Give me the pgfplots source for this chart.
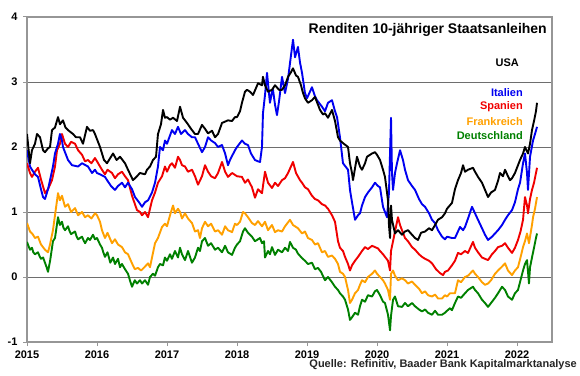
\documentclass[border=0pt]{standalone}
\usepackage{fontspec}
\setmainfont{Liberation Sans}
\usepackage{pgfplots}
\pgfplotsset{compat=1.18}
\definecolor{cblue}{RGB}{0,0,240}
\definecolor{cred}{RGB}{240,0,0}
\definecolor{corange}{RGB}{255,160,0}
\definecolor{cgreen}{RGB}{0,128,0}
\definecolor{cgrid}{RGB}{110,110,110}
\definecolor{cframe}{RGB}{150,150,150}
\begin{document}
\begin{tikzpicture}
\path[use as bounding box] (0,0) rectangle (580pt,375pt);
\begin{axis}[
  at={(27pt,33pt)}, anchor=south west,
  scale only axis, width=525pt, height=325pt,
  xmin=2015, xmax=2022.5, ymin=-1, ymax=4,
  xtick={2015,2016,2017,2018,2019,2020,2021,2022},
  ytick={-1,0,1,2,3,4},
  /pgf/number format/assume math mode=true,
  /pgf/number format/1000 sep={},
  ticklabel style={font=\bfseries\fontsize{11}{13}\selectfont},
  yticklabel style={xshift=-2pt},
  xticklabel style={yshift=-1pt},
  ymajorgrids, grid style={cgrid, line width=0.7pt},
  axis line style={cframe, line width=1.2pt},
  tick style={cframe, line width=1pt},
  tick align=outside, major tick length=4pt,
  xtick pos=bottom, ytick pos=left,
  every axis plot/.append style={line width=1.9pt, line join=round},
]
% Deutschland
\addplot[cgreen] table {
2015.000 0.54
2015.020 0.48
2015.043 0.42
2015.071 0.45
2015.090 0.38
2015.114 0.35
2015.157 0.38
2015.180 0.32
2015.200 0.28
2015.230 0.30
2015.257 0.22
2015.280 0.15
2015.300 0.08
2015.330 0.25
2015.371 0.55
2015.400 0.60
2015.420 0.75
2015.443 0.92
2015.470 0.80
2015.500 0.85
2015.520 0.76
2015.543 0.72
2015.586 0.78
2015.610 0.70
2015.630 0.66
2015.686 0.70
2015.710 0.62
2015.730 0.58
2015.786 0.62
2015.810 0.56
2015.830 0.52
2015.871 0.60
2015.900 0.57
2015.943 0.65
2015.971 0.58
2016.000 0.60
2016.043 0.50
2016.071 0.45
2016.090 0.38
2016.114 0.31
2016.150 0.38
2016.190 0.22
2016.229 0.30
2016.257 0.20
2016.300 0.28
2016.329 0.15
2016.357 0.20
2016.400 0.12
2016.443 0.05
2016.470 -0.05
2016.500 -0.15
2016.540 -0.05
2016.571 -0.10
2016.614 -0.05
2016.643 -0.10
2016.686 -0.05
2016.729 -0.12
2016.757 0.00
2016.800 0.05
2016.829 0.02
2016.871 0.15
2016.900 0.20
2016.943 0.18
2016.971 0.30
2017.000 0.25
2017.043 0.35
2017.071 0.28
2017.114 0.40
2017.157 0.30
2017.186 0.45
2017.214 0.35
2017.257 0.26
2017.300 0.40
2017.357 0.22
2017.400 0.30
2017.443 0.45
2017.471 0.40
2017.500 0.55
2017.543 0.60
2017.586 0.48
2017.630 0.52
2017.686 0.42
2017.729 0.45
2017.786 0.38
2017.830 0.48
2017.871 0.38
2017.929 0.34
2017.971 0.45
2018.000 0.50
2018.043 0.55
2018.086 0.70
2018.114 0.75
2018.157 0.68
2018.214 0.62
2018.257 0.55
2018.300 0.58
2018.329 0.60
2018.357 0.52
2018.386 0.55
2018.400 0.30
2018.443 0.40
2018.471 0.35
2018.500 0.46
2018.543 0.34
2018.586 0.42
2018.643 0.38
2018.686 0.45
2018.729 0.40
2018.757 0.54
2018.800 0.45
2018.843 0.42
2018.871 0.36
2018.929 0.29
2018.971 0.25
2019.014 0.20
2019.071 0.22
2019.114 0.12
2019.157 0.14
2019.200 0.08
2019.257 -0.05
2019.300 0.00
2019.357 -0.08
2019.400 -0.15
2019.443 -0.20
2019.471 -0.25
2019.514 -0.30
2019.543 -0.35
2019.586 -0.50
2019.614 -0.66
2019.643 -0.62
2019.686 -0.55
2019.729 -0.58
2019.757 -0.45
2019.786 -0.35
2019.829 -0.38
2019.871 -0.28
2019.929 -0.30
2019.971 -0.22
2020.000 -0.20
2020.043 -0.28
2020.086 -0.38
2020.114 -0.40
2020.157 -0.58
2020.186 -0.82
2020.200 -0.60
2020.229 -0.35
2020.257 -0.30
2020.300 -0.45
2020.357 -0.46
2020.400 -0.40
2020.443 -0.45
2020.500 -0.40
2020.543 -0.45
2020.600 -0.50
2020.643 -0.53
2020.686 -0.50
2020.729 -0.55
2020.786 -0.58
2020.829 -0.52
2020.871 -0.58
2020.929 -0.58
2020.971 -0.55
2021.000 -0.52
2021.043 -0.48
2021.071 -0.51
2021.114 -0.40
2021.157 -0.30
2021.200 -0.32
2021.257 -0.25
2021.300 -0.20
2021.371 -0.15
2021.400 -0.20
2021.443 -0.25
2021.500 -0.35
2021.543 -0.40
2021.586 -0.46
2021.629 -0.40
2021.686 -0.32
2021.729 -0.25
2021.786 -0.15
2021.829 -0.20
2021.871 -0.30
2021.929 -0.35
2021.971 -0.25
2022.014 -0.20
2022.050 -0.05
2022.086 0.10
2022.114 0.20
2022.143 0.26
2022.171 -0.10
2022.186 0.15
2022.214 0.30
2022.243 0.45
2022.271 0.60
2022.286 0.67
};
% Frankreich
\addplot[corange] table {
2015.000 0.83
2015.043 0.70
2015.080 0.66
2015.114 0.60
2015.157 0.62
2015.200 0.50
2015.257 0.42
2015.300 0.38
2015.329 0.50
2015.371 0.72
2015.400 0.95
2015.443 1.29
2015.470 1.18
2015.500 1.25
2015.543 1.08
2015.586 1.12
2015.630 1.00
2015.686 1.06
2015.730 0.95
2015.786 1.00
2015.829 0.92
2015.871 0.95
2015.920 0.90
2015.971 0.98
2016.000 0.95
2016.043 0.85
2016.071 0.72
2016.114 0.60
2016.150 0.68
2016.214 0.52
2016.257 0.58
2016.300 0.50
2016.357 0.46
2016.400 0.38
2016.443 0.35
2016.500 0.21
2016.540 0.12
2016.586 0.14
2016.630 0.10
2016.686 0.16
2016.729 0.21
2016.757 0.15
2016.786 0.30
2016.829 0.52
2016.871 0.60
2016.929 0.77
2016.971 0.82
2017.000 0.78
2017.043 0.95
2017.086 1.10
2017.114 0.98
2017.157 1.05
2017.186 1.00
2017.214 0.90
2017.257 0.98
2017.300 0.90
2017.357 0.83
2017.400 0.70
2017.443 0.72
2017.471 0.60
2017.500 0.75
2017.543 0.85
2017.586 0.78
2017.630 0.82
2017.686 0.70
2017.729 0.72
2017.786 0.65
2017.830 0.78
2017.871 0.72
2017.929 0.69
2017.971 0.82
2018.000 0.80
2018.043 0.85
2018.086 1.00
2018.114 0.98
2018.157 0.92
2018.214 0.83
2018.257 0.80
2018.300 0.86
2018.357 0.78
2018.400 0.85
2018.443 0.72
2018.500 0.80
2018.543 0.69
2018.586 0.72
2018.643 0.70
2018.686 0.78
2018.757 0.88
2018.800 0.80
2018.871 0.75
2018.929 0.67
2018.971 0.70
2019.014 0.60
2019.071 0.57
2019.114 0.50
2019.157 0.52
2019.214 0.38
2019.257 0.40
2019.300 0.31
2019.357 0.33
2019.400 0.28
2019.443 0.20
2019.471 0.08
2019.514 0.05
2019.543 0.00
2019.586 -0.20
2019.614 -0.40
2019.643 -0.35
2019.686 -0.25
2019.729 -0.20
2019.757 -0.12
2019.786 -0.05
2019.829 -0.08
2019.871 0.00
2019.929 0.05
2019.971 0.10
2020.000 0.05
2020.043 0.00
2020.086 -0.05
2020.114 -0.10
2020.157 -0.20
2020.186 -0.35
2020.200 0.05
2020.229 0.10
2020.257 0.02
2020.300 -0.05
2020.357 -0.02
2020.400 -0.05
2020.443 -0.10
2020.500 -0.07
2020.543 -0.12
2020.600 -0.18
2020.643 -0.25
2020.686 -0.22
2020.729 -0.28
2020.786 -0.30
2020.829 -0.27
2020.871 -0.33
2020.929 -0.33
2020.971 -0.28
2021.000 -0.30
2021.043 -0.25
2021.114 -0.25
2021.157 -0.05
2021.200 -0.08
2021.257 0.00
2021.300 0.02
2021.371 0.10
2021.400 0.05
2021.443 0.00
2021.500 -0.08
2021.543 -0.12
2021.586 -0.10
2021.629 -0.05
2021.686 0.05
2021.729 0.10
2021.786 0.16
2021.829 0.21
2021.871 0.10
2021.929 0.03
2021.971 0.10
2022.014 0.15
2022.050 0.30
2022.086 0.46
2022.114 0.55
2022.143 0.67
2022.171 0.52
2022.214 0.80
2022.229 0.92
2022.257 1.05
2022.286 1.23
};
% Spanien
\addplot[cred] table {
2015.000 1.75
2015.043 1.60
2015.071 1.54
2015.114 1.62
2015.157 1.68
2015.200 1.50
2015.257 1.29
2015.300 1.35
2015.357 1.49
2015.400 1.70
2015.429 1.95
2015.471 2.05
2015.500 2.20
2015.543 2.05
2015.586 2.00
2015.630 2.08
2015.686 2.05
2015.730 1.95
2015.786 1.88
2015.829 1.78
2015.871 1.80
2015.920 1.75
2015.971 1.83
2016.000 1.78
2016.043 1.70
2016.071 1.65
2016.114 1.58
2016.150 1.65
2016.214 1.60
2016.257 1.52
2016.300 1.58
2016.357 1.62
2016.400 1.55
2016.443 1.49
2016.500 1.25
2016.571 1.03
2016.614 1.00
2016.643 0.95
2016.686 1.00
2016.729 0.92
2016.757 1.05
2016.786 1.18
2016.829 1.30
2016.871 1.45
2016.929 1.55
2016.971 1.70
2017.000 1.62
2017.043 1.72
2017.071 1.75
2017.114 1.68
2017.157 1.85
2017.186 1.80
2017.214 1.72
2017.257 1.70
2017.300 1.62
2017.357 1.65
2017.400 1.55
2017.443 1.42
2017.500 1.55
2017.543 1.72
2017.586 1.62
2017.630 1.55
2017.686 1.52
2017.729 1.60
2017.786 1.77
2017.830 1.62
2017.871 1.54
2017.930 1.60
2018.000 1.55
2018.071 1.54
2018.114 1.45
2018.157 1.50
2018.214 1.38
2018.257 1.22
2018.300 1.35
2018.357 1.29
2018.400 1.62
2018.443 1.45
2018.500 1.37
2018.543 1.45
2018.586 1.40
2018.643 1.49
2018.686 1.52
2018.729 1.60
2018.800 1.77
2018.843 1.60
2018.900 1.49
2018.929 1.45
2018.971 1.38
2019.014 1.35
2019.071 1.25
2019.114 1.20
2019.157 1.18
2019.214 1.12
2019.257 1.10
2019.300 1.05
2019.357 0.95
2019.400 0.85
2019.443 0.55
2019.471 0.45
2019.514 0.40
2019.543 0.31
2019.586 0.20
2019.614 0.10
2019.643 0.18
2019.686 0.25
2019.729 0.31
2019.786 0.40
2019.829 0.46
2019.871 0.43
2019.929 0.48
2019.971 0.46
2020.014 0.44
2020.043 0.40
2020.086 0.35
2020.114 0.31
2020.157 0.25
2020.186 0.10
2020.200 0.40
2020.229 0.55
2020.257 0.70
2020.300 0.92
2020.329 0.80
2020.357 0.72
2020.400 0.60
2020.443 0.55
2020.500 0.46
2020.543 0.42
2020.600 0.35
2020.643 0.31
2020.686 0.28
2020.743 0.25
2020.786 0.21
2020.843 0.12
2020.900 0.06
2020.943 0.03
2020.971 0.08
2021.014 0.10
2021.071 0.18
2021.114 0.25
2021.157 0.37
2021.200 0.35
2021.257 0.40
2021.300 0.37
2021.371 0.54
2021.400 0.45
2021.443 0.38
2021.500 0.30
2021.543 0.28
2021.586 0.26
2021.643 0.35
2021.686 0.40
2021.729 0.46
2021.786 0.48
2021.829 0.52
2021.871 0.45
2021.929 0.37
2021.971 0.45
2022.014 0.57
2022.050 0.70
2022.086 0.88
2022.114 1.23
2022.143 1.10
2022.157 0.98
2022.186 1.20
2022.214 1.34
2022.243 1.45
2022.271 1.60
2022.286 1.68
};
% Italien
\addplot[cblue] table {
2015.000 1.95
2015.043 1.70
2015.071 1.65
2015.114 1.58
2015.157 1.54
2015.200 1.35
2015.229 1.23
2015.257 1.20
2015.300 1.35
2015.329 1.49
2015.371 1.70
2015.400 1.90
2015.443 2.05
2015.471 2.20
2015.500 2.10
2015.514 2.00
2015.550 1.90
2015.586 1.80
2015.643 1.72
2015.729 1.70
2015.786 1.75
2015.871 1.70
2015.929 1.60
2015.971 1.65
2016.000 1.60
2016.043 1.58
2016.114 1.54
2016.150 1.48
2016.200 1.40
2016.257 1.34
2016.300 1.40
2016.357 1.45
2016.400 1.38
2016.443 1.45
2016.500 1.35
2016.543 1.23
2016.600 1.15
2016.643 1.08
2016.686 1.15
2016.729 1.18
2016.786 1.30
2016.829 1.45
2016.871 1.70
2016.900 2.00
2016.943 1.95
2016.971 2.10
2017.000 2.05
2017.071 2.26
2017.114 2.20
2017.157 2.31
2017.200 2.20
2017.257 2.26
2017.300 2.20
2017.357 2.15
2017.400 2.15
2017.443 2.05
2017.500 1.92
2017.543 2.00
2017.586 2.15
2017.630 2.10
2017.686 2.06
2017.729 2.00
2017.786 2.03
2017.830 1.90
2017.871 1.72
2017.900 1.80
2017.971 1.95
2018.000 2.00
2018.071 2.10
2018.114 2.05
2018.157 2.03
2018.200 1.90
2018.257 1.80
2018.300 1.78
2018.329 1.77
2018.357 2.00
2018.371 2.52
2018.400 2.80
2018.429 3.14
2018.450 2.90
2018.471 2.68
2018.500 2.85
2018.514 2.88
2018.543 2.65
2018.571 2.49
2018.600 2.70
2018.643 3.08
2018.686 2.83
2018.729 3.05
2018.757 3.29
2018.800 3.65
2018.829 3.38
2018.871 3.54
2018.900 3.30
2018.929 3.14
2018.971 2.83
2019.000 2.75
2019.071 2.92
2019.114 2.78
2019.143 2.72
2019.214 2.62
2019.257 2.55
2019.300 2.68
2019.357 2.72
2019.400 2.55
2019.429 2.46
2019.471 2.15
2019.514 1.75
2019.586 1.65
2019.614 1.34
2019.643 1.15
2019.686 0.88
2019.729 0.95
2019.757 0.98
2019.786 1.10
2019.829 1.23
2019.871 1.30
2019.929 1.38
2019.971 1.45
2020.014 1.40
2020.043 1.38
2020.086 1.08
2020.114 1.00
2020.143 0.92
2020.171 1.30
2020.200 2.45
2020.214 1.60
2020.229 1.34
2020.257 1.60
2020.286 1.75
2020.329 1.95
2020.357 1.85
2020.371 1.80
2020.400 1.65
2020.443 1.49
2020.500 1.40
2020.543 1.34
2020.600 1.20
2020.643 1.12
2020.686 1.08
2020.743 0.98
2020.786 0.88
2020.829 0.83
2020.871 0.72
2020.929 0.62
2020.971 0.58
2021.000 0.62
2021.071 0.60
2021.114 0.60
2021.186 0.77
2021.229 0.72
2021.257 0.77
2021.300 0.90
2021.357 1.08
2021.400 0.98
2021.443 0.88
2021.500 0.75
2021.543 0.65
2021.586 0.57
2021.643 0.62
2021.729 0.72
2021.786 0.80
2021.829 0.88
2021.871 0.95
2021.929 1.03
2021.971 1.15
2022.014 1.35
2022.043 1.45
2022.086 1.75
2022.114 1.90
2022.143 1.60
2022.157 1.34
2022.186 1.85
2022.229 2.10
2022.257 2.20
2022.286 2.31
};
% USA
\addplot[black] table {
2015.000 2.20
2015.043 1.75
2015.071 1.95
2015.114 2.05
2015.143 2.20
2015.186 2.15
2015.229 1.95
2015.257 1.92
2015.300 1.98
2015.329 2.00
2015.357 2.26
2015.400 2.30
2015.443 2.46
2015.471 2.35
2015.514 2.41
2015.550 2.30
2015.586 2.26
2015.657 2.20
2015.700 2.15
2015.757 2.15
2015.800 2.05
2015.857 2.31
2015.900 2.25
2015.943 2.26
2015.971 2.20
2016.043 2.00
2016.100 1.80
2016.143 1.75
2016.200 1.85
2016.229 1.90
2016.280 1.80
2016.329 1.85
2016.400 1.75
2016.443 1.65
2016.514 1.49
2016.571 1.55
2016.614 1.60
2016.686 1.58
2016.714 1.65
2016.757 1.70
2016.800 1.80
2016.843 1.85
2016.871 2.20
2016.914 2.35
2016.943 2.57
2016.971 2.45
2017.000 2.46
2017.043 2.42
2017.086 2.45
2017.143 2.40
2017.186 2.62
2017.229 2.45
2017.286 2.37
2017.343 2.28
2017.400 2.20
2017.443 2.20
2017.500 2.34
2017.543 2.28
2017.586 2.21
2017.643 2.25
2017.686 2.15
2017.729 2.20
2017.786 2.37
2017.871 2.41
2017.929 2.40
2017.971 2.46
2018.000 2.46
2018.043 2.55
2018.071 2.68
2018.114 2.85
2018.143 2.88
2018.186 2.85
2018.229 2.80
2018.300 2.98
2018.357 2.95
2018.371 3.08
2018.400 2.95
2018.443 2.85
2018.500 2.88
2018.543 2.95
2018.600 2.88
2018.643 2.88
2018.686 2.95
2018.729 3.08
2018.771 3.15
2018.800 3.21
2018.843 3.10
2018.871 3.08
2018.914 2.95
2018.943 2.83
2018.971 2.75
2019.014 2.68
2019.071 2.72
2019.114 2.77
2019.157 2.65
2019.186 2.57
2019.229 2.50
2019.257 2.52
2019.300 2.45
2019.357 2.57
2019.400 2.40
2019.443 2.15
2019.471 2.10
2019.514 2.06
2019.586 2.00
2019.614 1.75
2019.643 1.60
2019.657 1.49
2019.714 1.85
2019.757 1.70
2019.786 1.65
2019.829 1.75
2019.857 1.85
2019.929 1.90
2019.971 1.92
2020.000 1.88
2020.043 1.80
2020.086 1.65
2020.114 1.54
2020.157 1.18
2020.171 0.80
2020.186 0.60
2020.200 1.10
2020.214 0.88
2020.257 0.67
2020.300 0.72
2020.357 0.65
2020.400 0.70
2020.443 0.72
2020.500 0.65
2020.543 0.60
2020.586 0.57
2020.629 0.68
2020.686 0.70
2020.743 0.75
2020.786 0.72
2020.829 0.80
2020.871 0.88
2020.929 0.92
2020.971 0.98
2021.000 1.05
2021.071 1.14
2021.114 1.35
2021.157 1.49
2021.200 1.60
2021.229 1.72
2021.257 1.62
2021.300 1.65
2021.371 1.68
2021.400 1.62
2021.443 1.54
2021.500 1.45
2021.543 1.34
2021.586 1.23
2021.629 1.30
2021.686 1.34
2021.729 1.48
2021.757 1.60
2021.800 1.55
2021.829 1.65
2021.871 1.55
2021.900 1.49
2021.929 1.52
2021.971 1.60
2022.043 1.80
2022.086 1.90
2022.114 2.00
2022.157 1.90
2022.186 2.05
2022.214 2.26
2022.243 2.40
2022.271 2.55
2022.286 2.68
};
\end{axis}
\node[anchor=east, font=\bfseries\fontsize{14}{16}\selectfont, inner sep=0pt] at (547pt,345pt) {Renditen 10-jähriger Staatsanleihen};
\begin{scope}[every node/.style={anchor=east, inner sep=0pt, font=\bfseries\fontsize{11}{13}\selectfont}]
\node[text=black] at (519pt,312pt) {USA};
\node[text=cblue] at (523pt,282pt) {Italien};
\node[text=cred] at (523pt,268pt) {Spanien};
\node[text=corange] at (523pt,253pt) {Frankreich};
\node[text=cgreen] at (523pt,239pt) {Deutschland};
\node[text=black!85] at (577pt,10pt) {Quelle: Refinitiv, Baader Bank Kapitalmarktanalyse};
\end{scope}
\end{tikzpicture}
\end{document}
